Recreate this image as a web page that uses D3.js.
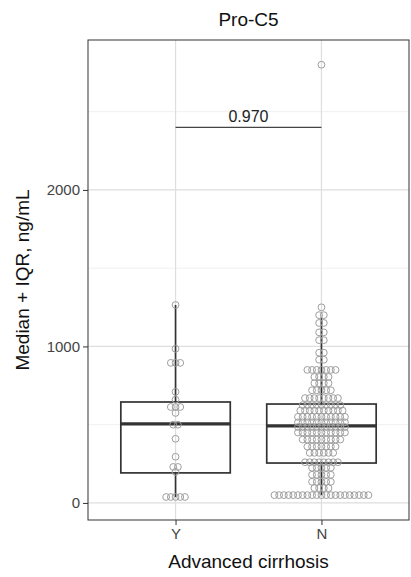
<!DOCTYPE html>
<html>
<head>
<meta charset="utf-8">
<script src="https://cdn.jsdelivr.net/npm/d3@7"></script>
<style>
  body { margin: 0; background: #fff; }
  text { font-family: "Liberation Sans", Arial, sans-serif; }
</style>
</head>
<body>
<div id="chart"></div>
<script>
// data
const categories = ["Y", "N"];

// dot rows (value, number of dots in row)
const yValues = [1265, 985, 895, 710, 660, 613, 575, 500, 410, 295, 230, 198, 38];
const yCounts = [1, 1, 3, 1, 1, 3, 1, 2, 1, 1, 2, 1, 5];
const nValues = [2800, 1250, 1200, 1150, 1090, 1040, 960, 915, 850, 805, 765, 720, 670, 625, 590, 550, 515, 485, 450, 405, 360, 320, 260, 225, 180, 135, 95, 50];
const nCounts = [1, 1, 2, 2, 2, 2, 2, 2, 7, 4, 4, 5, 8, 9, 10, 11, 11, 11, 11, 9, 7, 6, 8, 5, 5, 5, 4, 21];

// box stats: [lower whisker, q1, median, q3, upper whisker]
const boxStats = {
  Y: [38, 192, 505, 645, 1265],
  N: [50, 255, 492, 632, 1185]
};

const yTicks = [0, 1000, 2000];
const yMinor = [500, 1500, 2500];
const pValue = "0.970";
const bracketValue = 2400;

const width = 411, height = 577;
const panel = { left: 88, right: 409, top: 40, bottom: 520 };

let svg = d3.select("#chart")
    .append("svg")
    .attr("width", width)
    .attr("height", height);

let x = d3.scalePoint()
    .domain(categories)
    .range([panel.left, panel.right])
    .padding(0.6);

let y = d3.scaleLinear()
    .domain([-109, 2958])
    .range([panel.bottom, panel.top]);

const step = x.step();
const boxW = step * 0.75;

// panel background
svg.append("rect")
    .attr("x", panel.left).attr("y", panel.top)
    .attr("width", panel.right - panel.left)
    .attr("height", panel.bottom - panel.top)
    .attr("fill", "#fff");

// grid lines
svg.append("g").selectAll("line").data(yMinor).enter().append("line")
    .attr("x1", panel.left).attr("x2", panel.right)
    .attr("y1", d => y(d)).attr("y2", d => y(d))
    .attr("stroke", "#ececec").attr("stroke-width", 0.8);

svg.append("g").selectAll("line").data(yTicks).enter().append("line")
    .attr("x1", panel.left).attr("x2", panel.right)
    .attr("y1", d => y(d)).attr("y2", d => y(d))
    .attr("stroke", "#dedede").attr("stroke-width", 1.2);

svg.append("g").selectAll("line").data(categories).enter().append("line")
    .attr("x1", d => x(d)).attr("x2", d => x(d))
    .attr("y1", panel.top).attr("y2", panel.bottom)
    .attr("stroke", "#dedede").attr("stroke-width", 1.2);

// boxes
categories.forEach(function (c) {
    let s = boxStats[c];
    let cx = x(c);
    let g = svg.append("g").attr("stroke", "#333").attr("fill", "none");
    g.append("line")
        .attr("x1", cx).attr("x2", cx)
        .attr("y1", y(s[3])).attr("y2", y(s[4]))
        .attr("stroke-width", 1.7);
    g.append("line")
        .attr("x1", cx).attr("x2", cx)
        .attr("y1", y(s[0])).attr("y2", y(s[1]))
        .attr("stroke-width", 1.7);
    g.append("rect")
        .attr("x", cx - boxW / 2).attr("y", y(s[3]))
        .attr("width", boxW).attr("height", y(s[1]) - y(s[3]))
        .attr("stroke-width", 1.7);
    g.append("line")
        .attr("x1", cx - boxW / 2).attr("x2", cx + boxW / 2)
        .attr("y1", y(s[2])).attr("y2", y(s[2]))
        .attr("stroke-width", 3.2);
});

// dots, laid out in rows like a beeswarm
const dotStep = 4.7;
function rowPoints(cat, values, counts) {
    let pts = [];
    for (let i = 0; i < values.length; i++) {
        for (let k = 0; k < counts[i]; k++) {
            pts.push({ cat: cat, value: values[i], off: (k - (counts[i] - 1) / 2) * dotStep });
        }
    }
    return pts;
}
let points = rowPoints("Y", yValues, yCounts).concat(rowPoints("N", nValues, nCounts));

svg.append("g").selectAll("circle").data(points).enter().append("circle")
    .attr("cx", d => x(d.cat) + d.off)
    .attr("cy", d => y(d.value))
    .attr("r", 3.4)
    .attr("fill", "none")
    .attr("stroke", "#9e9e9e")
    .attr("stroke-width", 1);

// panel border
svg.append("rect")
    .attr("x", panel.left).attr("y", panel.top)
    .attr("width", panel.right - panel.left)
    .attr("height", panel.bottom - panel.top)
    .attr("fill", "none").attr("stroke", "#444").attr("stroke-width", 1.1);

// y axis
let yAxis = svg.append("g")
    .attr("transform", `translate(${panel.left},0)`)
    .call(d3.axisLeft(y).tickValues(yTicks).tickSize(5).tickPadding(3).tickFormat(d3.format("d")));
yAxis.select(".domain").remove();
yAxis.selectAll("line").attr("stroke", "#333");
yAxis.selectAll("text").attr("fill", "#444").style("font-size", "15px")
    .style("font-family", "Liberation Sans, Arial, sans-serif");

// x axis
let xAxis = svg.append("g")
    .attr("transform", `translate(0,${panel.bottom})`)
    .call(d3.axisBottom(x).tickSize(5).tickPadding(3));
xAxis.select(".domain").remove();
xAxis.selectAll("line").attr("stroke", "#333");
xAxis.selectAll("text").attr("fill", "#444").style("font-size", "15px")
    .style("font-family", "Liberation Sans, Arial, sans-serif");

// significance bracket
svg.append("line")
    .attr("x1", x("Y")).attr("x2", x("N"))
    .attr("y1", y(bracketValue)).attr("y2", y(bracketValue))
    .attr("stroke", "#444").attr("stroke-width", 1.2);
svg.append("text")
    .attr("x", (x("Y") + x("N")) / 2)
    .attr("y", y(bracketValue) - 5)
    .attr("text-anchor", "middle")
    .style("font-size", "16px")
    .attr("fill", "#222")
    .text(pValue);

// title
svg.append("text")
    .attr("x", (panel.left + panel.right) / 2)
    .attr("y", 26)
    .attr("text-anchor", "middle")
    .style("font-size", "19px")
    .attr("fill", "#111")
    .text("Pro-C5");

// x-axis title
svg.append("text")
    .attr("x", (panel.left + panel.right) / 2)
    .attr("y", 568)
    .attr("text-anchor", "middle")
    .style("font-size", "19px")
    .attr("fill", "#111")
    .text("Advanced cirrhosis");

// y-axis title
svg.append("text")
    .attr("transform", `translate(29, ${(panel.top + panel.bottom) / 2}) rotate(-90)`)
    .attr("text-anchor", "middle")
    .style("font-size", "19px")
    .attr("fill", "#111")
    .text("Median + IQR, ng/mL");
</script>
</body>
</html>
